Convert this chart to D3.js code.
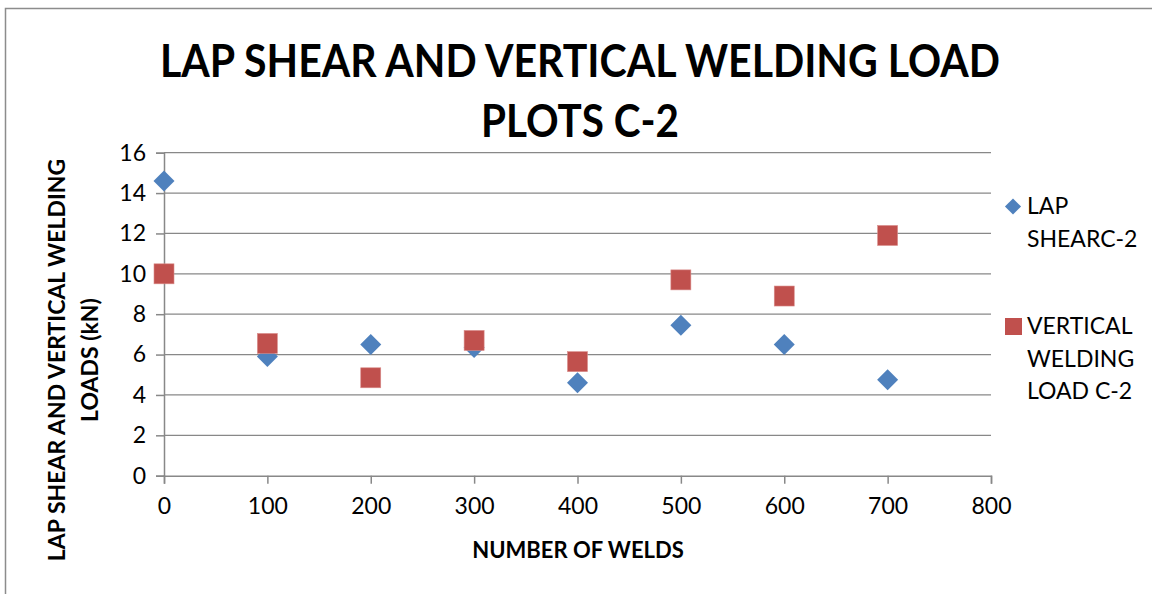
<!DOCTYPE html>
<html>
<head>
<meta charset="utf-8">
<script src="https://cdn.jsdelivr.net/npm/d3@7"></script>
<style>
  html, body { margin: 0; padding: 0; background: #fff; }
  svg { display: block; font-family: Lato, "Open Sans", sans-serif; }
</style>
</head>
<body>
<svg id="chart" width="1152" height="594"></svg>
<script>
// ---- data ----
const welds = [0, 100, 200, 300, 400, 500, 600, 700];
const lapShear = [14.6, 5.9, 6.5, 6.35, 4.6, 7.45, 6.5, 4.75];
const verticalLoad = [10.0, 6.55, 4.85, 6.7, 5.65, 9.7, 8.9, 11.9];
const xTicks = [0, 100, 200, 300, 400, 500, 600, 700, 800];
const yTicks = [0, 2, 4, 6, 8, 10, 12, 14, 16];
const titleLines = ["LAP SHEAR AND VERTICAL WELDING LOAD", "PLOTS C-2"];
const yTitleLines = ["LAP SHEAR AND VERTICAL WELDING", "LOADS (kN)"];
const xTitle = "NUMBER OF WELDS";
const seriesNames = [["LAP", "SHEARC-2"], ["VERTICAL", "WELDING", "LOAD C-2"]];

(function () {
// ---- layout ----
const svg = d3.select("#chart");
const pL = 164, pR = 991, pT = 152.7, pB = 475.7;
const x = d3.scaleLinear().domain([0, 800]).range([pL, pR]);
const y = d3.scaleLinear().domain([0, 16]).range([pB, pT]);
const blue = "#4F81BD", red = "#C0504D", grid = "#888888";

// outer border
svg.append("rect").attr("x", 5.5).attr("y", 8.5).attr("width", 1300).attr("height", 800)
  .attr("fill", "none").attr("stroke", "#8c8c8c").attr("stroke-width", 1.5);

// title (condensed to mimic Calibri Bold)
const titleLen = [840, 198];
svg.append("g").selectAll("text").data(titleLines).join("text")
  .attr("x", 580).attr("y", (d, i) => 77 + i * 60)
  .attr("text-anchor", "middle").attr("font-weight", "bold").attr("font-size", 45)
  .attr("textLength", (d, i) => titleLen[i]).attr("lengthAdjust", "spacingAndGlyphs")
  .attr("fill", "#000").text(d => d);

// gridlines
svg.append("g").selectAll("line").data(yTicks.filter(t => t > 0)).join("line")
  .attr("x1", pL).attr("x2", pR).attr("y1", d => y(d)).attr("y2", d => y(d))
  .attr("stroke", grid).attr("stroke-width", 1.2);

// y axis
const yAxis = svg.append("g").attr("transform", `translate(${pL},0)`)
  .call(d3.axisLeft(y).tickValues(yTicks).tickSize(8).tickPadding(10).tickFormat(d3.format("d")));
yAxis.select(".domain").attr("stroke", grid).attr("stroke-width", 1.5);
yAxis.selectAll(".tick line").attr("stroke", grid).attr("stroke-width", 1.5);
yAxis.selectAll(".tick text").attr("font-size", 23).attr("fill", "#000")
  .attr("font-family", "Lato, sans-serif");

// x axis
const xAxis = svg.append("g").attr("transform", `translate(0,${pB})`)
  .call(d3.axisBottom(x).tickValues(xTicks).tickSize(8).tickPadding(14).tickFormat(d3.format("d")));
xAxis.select(".domain").attr("stroke", grid).attr("stroke-width", 1.5);
xAxis.selectAll(".tick line").attr("stroke", grid).attr("stroke-width", 1.5);
xAxis.selectAll(".tick text").attr("font-size", 23).attr("fill", "#000")
  .attr("font-family", "Lato, sans-serif");

// axis titles
svg.append("text").attr("x", 578).attr("y", 558).attr("text-anchor", "middle")
  .attr("font-weight", "bold").attr("font-size", 22).text(xTitle);
svg.append("g").attr("transform", "translate(0,360) rotate(-90)")
  .selectAll("text").data(yTitleLines).join("text")
  .attr("x", 0).attr("y", (d, i) => 65 + i * 33)
  .attr("text-anchor", "middle").attr("font-weight", "bold").attr("font-size", 23)
  .text(d => d);

// markers
const diamond = d3.symbol().type(d3.symbolSquare).size(220);
svg.append("g").selectAll("path").data(welds.map((w, i) => [w, lapShear[i]])).join("path")
  .attr("d", diamond)
  .attr("transform", d => `translate(${x(d[0])},${y(d[1])}) rotate(45)`)
  .attr("fill", blue);
svg.append("g").selectAll("rect").data(welds.map((w, i) => [w, verticalLoad[i]])).join("rect")
  .attr("x", d => x(d[0]) - 10).attr("y", d => y(d[1]) - 10)
  .attr("width", 20).attr("height", 20)
  .attr("fill", red).attr("stroke", "#d98c8a").attr("stroke-width", 0.6);

// legend
const lg = svg.append("g");
lg.append("path").attr("d", d3.symbol().type(d3.symbolSquare).size(130))
  .attr("transform", "translate(1013,206.5) rotate(45)").attr("fill", blue);
lg.append("rect").attr("x", 1005).attr("y", 318).attr("width", 17).attr("height", 17).attr("fill", red);
lg.append("g").selectAll("text").data(seriesNames[0]).join("text")
  .attr("x", 1027).attr("y", (d, i) => 214 + i * 32.5).attr("font-size", 23).text(d => d);
lg.append("g").selectAll("text").data(seriesNames[1]).join("text")
  .attr("x", 1027).attr("y", (d, i) => 334 + i * 32.5).attr("font-size", 23).text(d => d);
})();
</script>
</body>
</html>
